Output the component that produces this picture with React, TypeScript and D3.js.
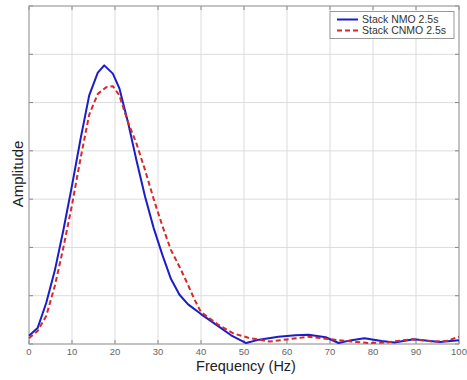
import React from "react";
import * as d3 from "d3";

const freqNMO = [0, 2, 4, 6, 8, 10, 12, 14, 16, 17.5, 19.5, 21, 23, 25, 27, 29, 31, 33, 35, 37, 40, 44, 47, 50.5, 53.5, 58, 62, 65, 69, 72, 75, 78, 82, 85, 89.5, 95.5, 100];
const ampNMO = [0.17, 0.33, 0.85, 1.52, 2.36, 3.28, 4.25, 5.15, 5.62, 5.77, 5.6, 5.3, 4.6, 3.8, 3.05, 2.4, 1.85, 1.35, 1.02, 0.82, 0.62, 0.37, 0.18, 0.02, 0.09, 0.15, 0.18, 0.19, 0.14, 0.02, 0.08, 0.12, 0.06, 0.03, 0.1, 0.04, 0.08];

const freqCNMO = [0, 2, 4, 6, 8, 10, 12, 14, 16, 18, 19.5, 21, 23, 25, 27, 29, 31, 33, 35, 37, 38.5, 40, 44, 47.5, 51, 56, 60.5, 65, 70, 75, 79, 83, 89, 94, 97, 100];
const ampCNMO = [0.12, 0.27, 0.58, 1.2, 2.0, 2.88, 3.85, 4.75, 5.18, 5.32, 5.34, 5.15, 4.6, 4.15, 3.6, 3.0, 2.45, 1.95, 1.6, 1.22, 0.92, 0.66, 0.4, 0.22, 0.13, 0.05, 0.1, 0.15, 0.1, 0.05, 0.02, 0.03, 0.1, 0.05, 0.06, 0.15];

const xTicks = [0, 10, 20, 30, 40, 50, 60, 70, 80, 90, 100];
const yTicks = [0, 1, 2, 3, 4, 5, 6, 7];
const seriesNames = ["Stack NMO 2.5s", "Stack CNMO 2.5s"];

export default function App() {
  const W = 467, H = 380;
  const L = 29, R = 459, T = 6, B = 344;
  const x = d3.scaleLinear().domain([0, 100]).range([L, R]);
  const y = d3.scaleLinear().domain([0, 7]).range([B, T]);
  const line = d3.line<[number, number]>().x(d => x(d[0])).y(d => y(d[1]));
  const nmo = line(freqNMO.map((f, i) => [f, ampNMO[i]]) as [number, number][]) || "";
  const cnmo = line(freqCNMO.map((f, i) => [f, ampCNMO[i]]) as [number, number][]) || "";
  const font = "Arial, 'Liberation Sans', sans-serif";
  return (
    <svg width={W} height={H} style={{ position: "absolute", left: 0, top: 0, background: "#fff" }} fontFamily={font}>
      <rect x={0} y={0} width={W} height={H} fill="#fff" />
      {xTicks.map(t => (
        <line key={"gx" + t} x1={x(t)} x2={x(t)} y1={T} y2={B} stroke="#dcdcdc" strokeWidth={1} />
      ))}
      {yTicks.map(t => (
        <line key={"gy" + t} x1={L} x2={R} y1={y(t)} y2={y(t)} stroke="#dcdcdc" strokeWidth={1} />
      ))}
      {xTicks.map(t => (
        <g key={"tx" + t}>
          <line x1={x(t)} x2={x(t)} y1={B} y2={B - 4} stroke="#888" />
          <line x1={x(t)} x2={x(t)} y1={T} y2={T + 4} stroke="#888" />
          <text x={x(t)} y={B + 10.5} textAnchor="middle" fontSize={9.5} fill="#666">{t}</text>
        </g>
      ))}
      {yTicks.map(t => (
        <g key={"ty" + t}>
          <line x1={L} x2={L + 4} y1={y(t)} y2={y(t)} stroke="#888" />
          <line x1={R} x2={R - 4} y1={y(t)} y2={y(t)} stroke="#888" />
        </g>
      ))}
      <rect x={L} y={T} width={R - L} height={B - T} fill="none" stroke="#999" strokeWidth={1} />
      <path d={nmo} fill="none" stroke="#1c1cc8" strokeWidth={2} strokeLinejoin="round" />
      <path d={cnmo} fill="none" stroke="#d42a2a" strokeWidth={2} strokeDasharray="5,3" strokeLinejoin="round" />
      <g>
        <rect x={330} y={11.5} width={124} height={27} fill="#fff" stroke="#999" />
        <line x1={337} x2={358} y1={19.5} y2={19.5} stroke="#1c1cc8" strokeWidth={2} />
        <line x1={337} x2={358} y1={30.5} y2={30.5} stroke="#d42a2a" strokeWidth={2} strokeDasharray="5,3" />
        <text x={362} y={23} fontSize={10.5} fill="#333">{seriesNames[0]}</text>
        <text x={362} y={34} fontSize={10.5} fill="#333">{seriesNames[1]}</text>
      </g>
      <text x={246} y={371} textAnchor="middle" fontSize={14.5} fill="#222">Frequency (Hz)</text>
      <text transform="translate(23,174) rotate(-90)" textAnchor="middle" fontSize={15} fill="#222">Amplitude</text>
    </svg>
  );
}
